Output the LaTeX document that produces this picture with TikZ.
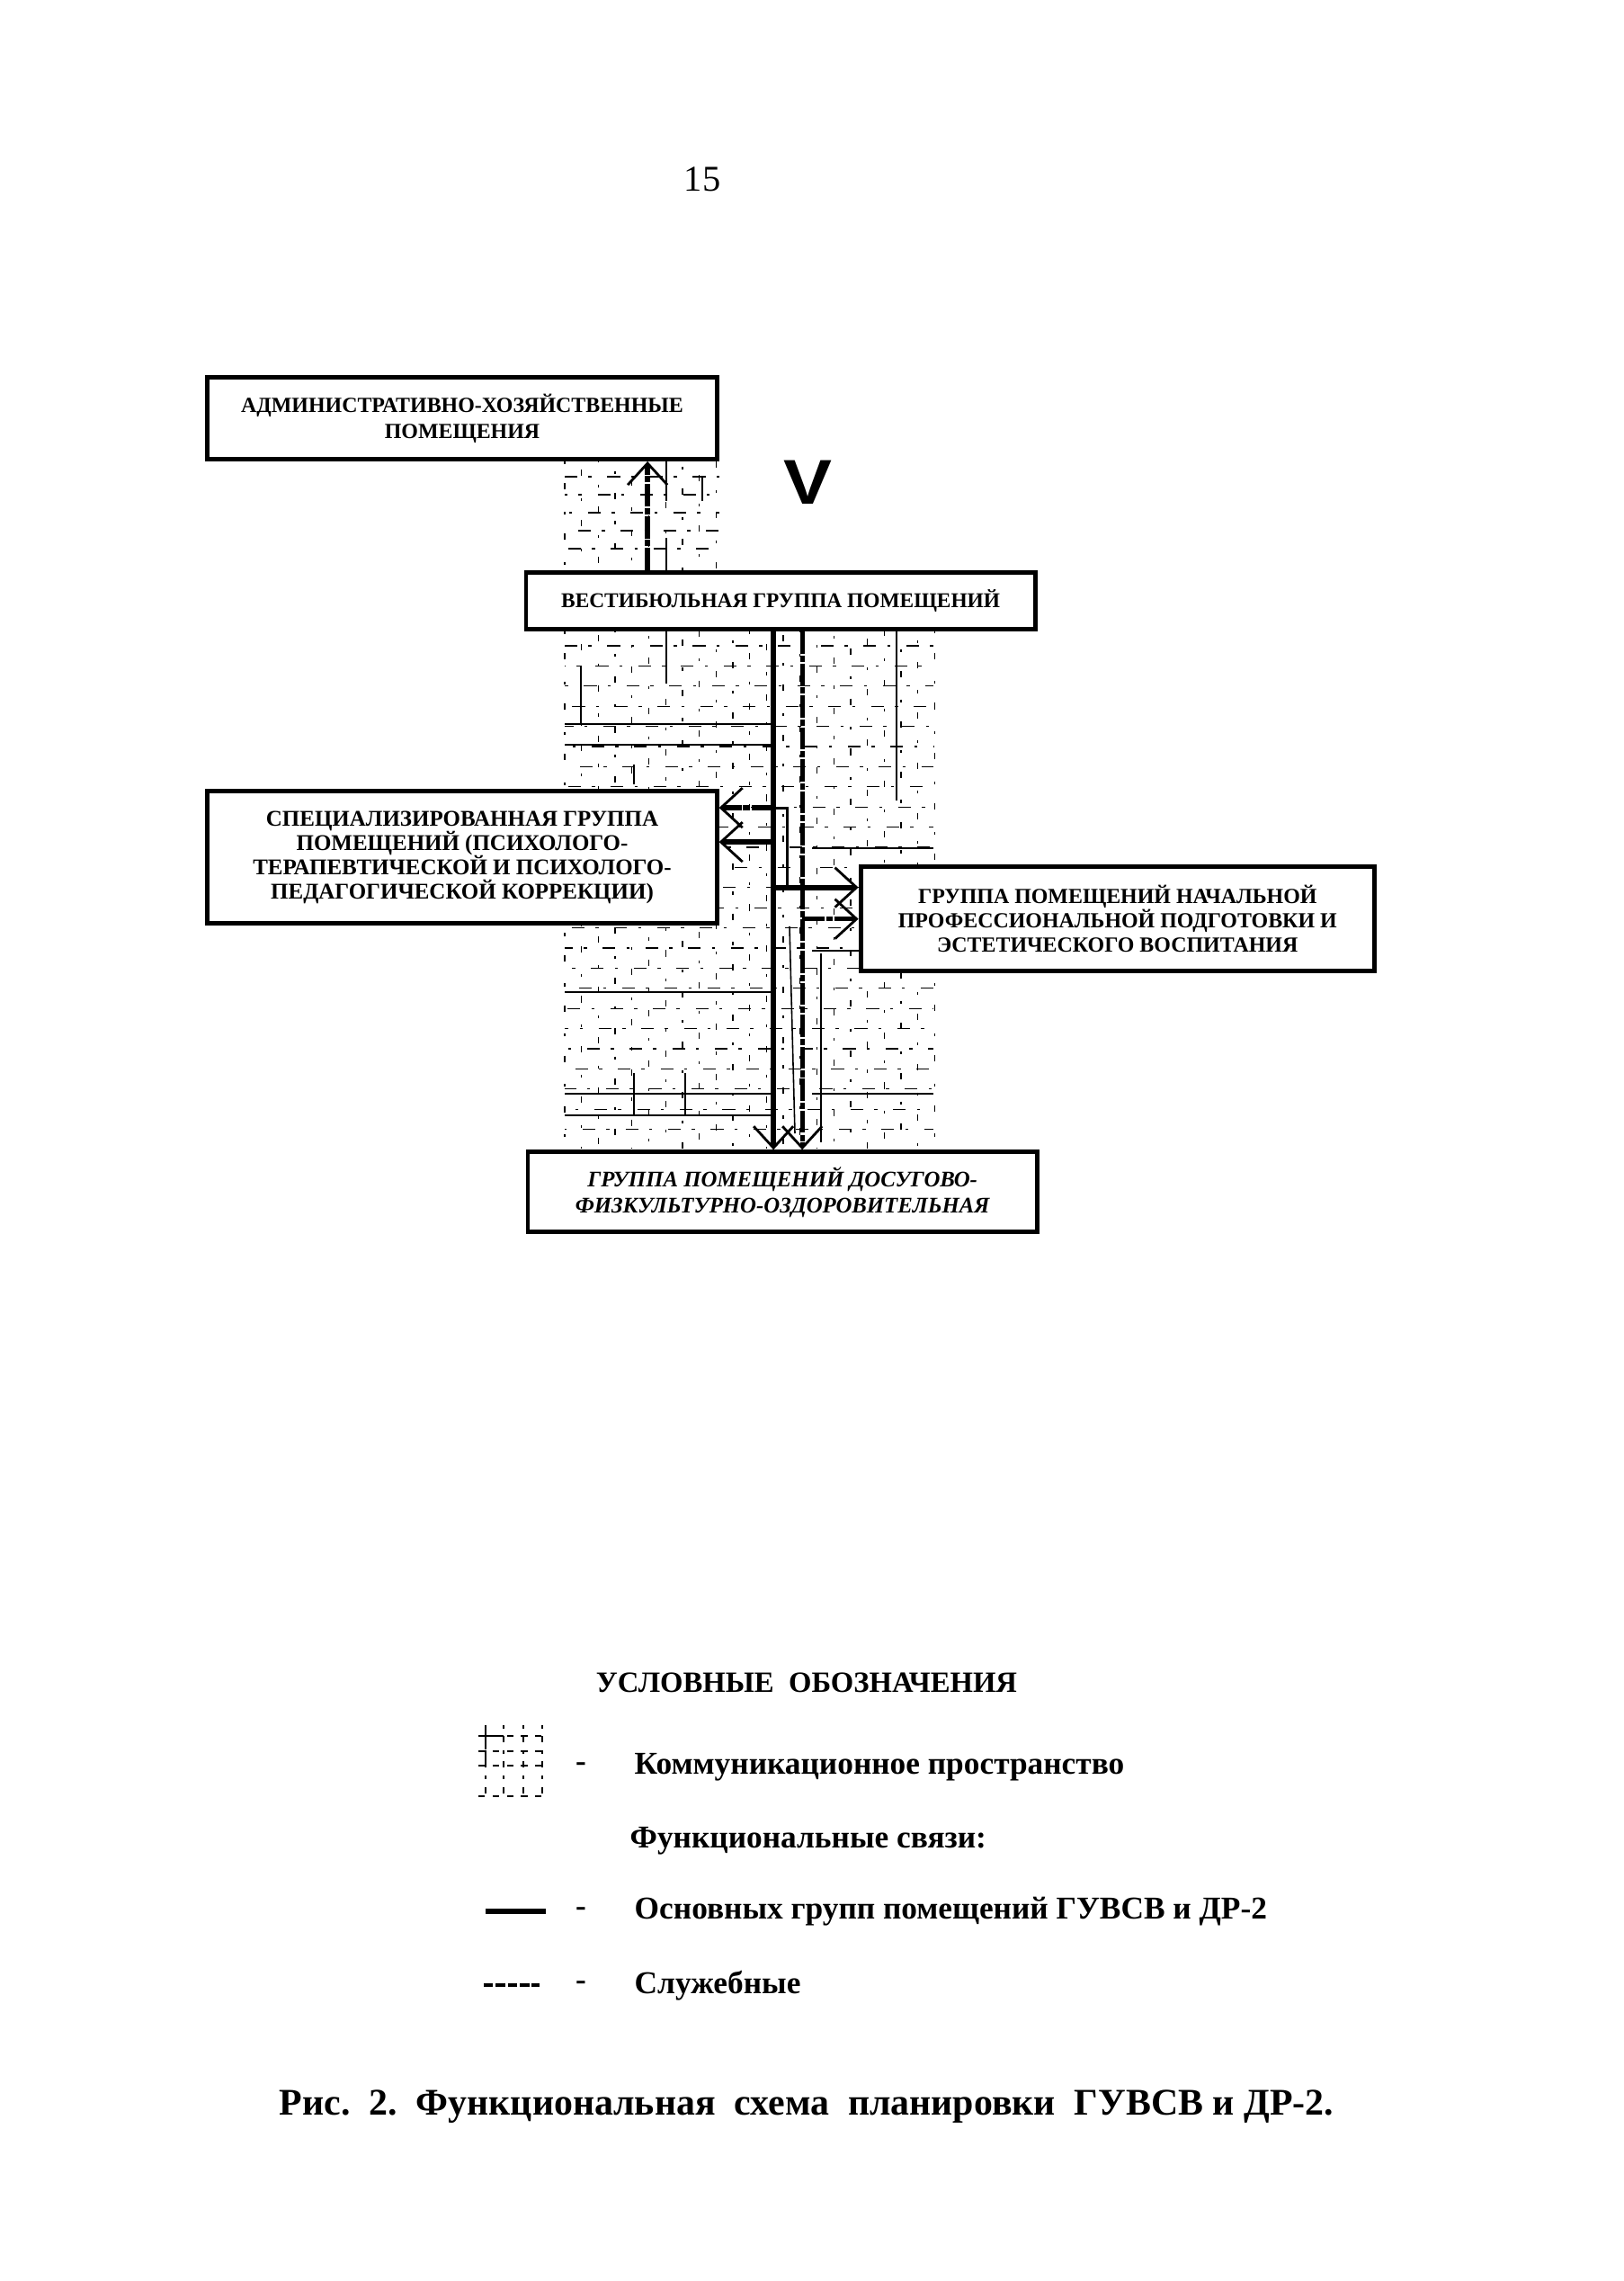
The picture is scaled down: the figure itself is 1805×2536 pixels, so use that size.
\documentclass[tikz,border=0pt]{standalone}
\usepackage{fontspec}
\setmainfont{Liberation Serif}
\newfontfamily\signfont{Liberation Sans}
\usetikzlibrary{arrows.meta, positioning, calc}
\tikzset{
  groupbox/.style={draw, rectangle, align=center, fill=white, line width=1.4pt, minimum width=5.66cm, font=\fontsize{6.8}{8.2}\selectfont\bfseries},
  barb/.style={-{Straight Barb[length=0.24cm, width=0.44cm, line width=0.8pt]}},
  mainlink/.style={line width=1.7pt},
  servlink/.style={line width=1.5pt, dash pattern=on 7pt off 0.6pt on 2pt off 0.5pt},
  thinlink/.style={line width=0.8pt},
  gridh/.style={line width=0.35pt, dash pattern=on 4pt off 3.5pt on 1pt off 5pt},
  gridv/.style={line width=0.35pt, dash pattern=on 0.9pt off 6pt on 2pt off 7pt},
  gridsolid/.style={line width=0.45pt},
  legendtext/.style={anchor=west, inner sep=0pt, font=\fontsize{10.05}{12}\selectfont\bfseries},
}
\begin{document}
\begin{tikzpicture}[x=0.01cm, y=-0.01cm]
  \useasboundingbox (0,0) rectangle (1805,2536);
  \fill [white] (0,0) rectangle (1805,2536);

  \foreach \gk in {0,...,24}
    \draw [gridh, dash phase=\gk*3.7pt] (628,718+22.4*\gk) -- (1038,718+22.4*\gk);
  \foreach \gk in {0,...,22}
    \draw [gridv, dash phase=\gk*2.9pt] (628+18.7*\gk,702) -- (628+18.7*\gk,1277);
  \foreach \gk in {0,...,4}
    \draw [gridh, dash phase=\gk*3.1pt] (628,530+20*\gk) -- (800,530+20*\gk);
  \foreach \gk in {0,...,9}
    \draw [gridv, dash phase=\gk*4.3pt] (628+18.7*\gk,513) -- (628+18.7*\gk,635);
  \foreach \xa/\ya/\xb/\yb in {741/513/741/557, 741/598/741/635, 781/530/781/557, 646/740/646/805,
    741/700/741/760, 997/702/997/890, 913/1060/913/1270, 705/850/705/872, 628/805/860/805,
    628/828/860/828, 628/1103/860/1103, 628/1216/860/1216, 628/1240/860/1240, 903/1216/1038/1216,
    903/943/1038/943, 903/1057/957/1057, 878/1030/884/1260, 705/1193/705/1240, 762/1193/762/1240}
    \draw [gridsolid] (\xa,\ya) -- (\xb,\yb);

  \node [groupbox, minimum height=0.91cm] (admin) at (514,465)
  {АДМИНИСТРАТИВНО-ХОЗЯЙСТВЕННЫЕ\\ ПОМЕЩЕНИЯ};
  \node [groupbox, minimum height=0.63cm, font=\fontsize{6.65}{8}\selectfont\bfseries, below right=1.21cm and -2.17cm of admin] (vest)
  {ВЕСТИБЮЛЬНАЯ ГРУППА ПОМЕЩЕНИЙ};
  \node [groupbox, minimum height=1.47cm, font=\fontsize{7.1}{7.7}\selectfont\bfseries, below left=1.75cm and -2.17cm of vest] (spec)
  {СПЕЦИАЛИЗИРОВАННАЯ ГРУППА\\ ПОМЕЩЕНИЙ (ПСИХОЛОГО-\\ ТЕРАПЕВТИЧЕСКОЙ И ПСИХОЛОГО-\\ ПЕДАГОГИЧЕСКОЙ КОРРЕКЦИИ)};
  \node [groupbox, minimum width=5.71cm, minimum height=1.16cm, font=\fontsize{6.8}{7.7}\selectfont\bfseries, below right=2.59cm and -1.99cm of vest] (nach)
  {ГРУППА ПОМЕЩЕНИЙ НАЧАЛЬНОЙ\\ ПРОФЕССИОНАЛЬНОЙ ПОДГОТОВКИ И\\ ЭСТЕТИЧЕСКОГО ВОСПИТАНИЯ};
  \node [groupbox, minimum height=0.89cm, font=\fontsize{7.05}{8.2}\selectfont\bfseries\itshape, below right=2.49cm and -2.15cm of spec] (dosug)
  {ГРУППА ПОМЕЩЕНИЙ ДОСУГОВО-\\ ФИЗКУЛЬТУРНО-ОЗДОРОВИТЕЛЬНАЯ};

  \node [font=\fontsize{11.5}{12}\selectfont] (pagenum) at (781,199) {15};
  \node [font=\fontsize{20}{24}\selectfont\signfont\bfseries, above=0.98cm of vest.north, anchor=center, xshift=0.30cm] (sign) {\scalebox{1.15}[1]{V}};

  \coordinate (uplink) at ([xshift=2.06cm]admin.south);
  \coordinate (maintop) at ([xshift=-0.08cm]vest.south);
  \coordinate (servtop) at ([xshift=0.24cm]vest.south);
  \coordinate (specmain) at ([yshift=0.17cm]spec.east);
  \coordinate (specserv) at ([yshift=0.55cm]spec.east);
  \coordinate (nachmain) at ([yshift=0.35cm]nach.west);
  \coordinate (bend) at ([xshift=0.15cm]maintop |- specserv);

  \draw [servlink, barb] (uplink |- vest.north) -- (uplink);
  \draw [mainlink, barb] (maintop) -- (maintop |- dosug.north);
  \draw [servlink, barb] (servtop) -- (servtop |- dosug.north);
  \draw [mainlink, barb] (maintop |- specmain) -- (specmain);
  \draw [servlink, barb] (maintop |- specserv) -- (specserv);
  \draw [thinlink] (maintop |- specserv) -- (bend) -- (bend |- nachmain);
  \draw [mainlink, barb] (maintop |- nachmain) -- (nachmain);
  \draw [servlink, barb] (servtop |- nach.west) -- (nach.west);

  \node [font=\fontsize{9.3}{12}\selectfont\bfseries] (legtitle) at (897,1871) {УСЛОВНЫЕ\ \ ОБОЗНАЧЕНИЯ};
  \node [legendtext] (legcomm) at (705,1965) {Коммуникационное пространство};
  \node [legendtext, below=0.82cm of legcomm.west, anchor=west, xshift=-0.05cm] (legfunc) {Функциональные связи:};
  \node [legendtext, below=1.60cm of legcomm.west, anchor=west] (legmain) {Основных групп помещений ГУВСВ и ДР-2};
  \node [legendtext, below=2.42cm of legcomm.west, anchor=west] (legserv) {Служебные};
  \node [legendtext, left=0.59cm of legcomm.west, anchor=center] (dashcomm) {-};
  \node [legendtext, left=0.59cm of legmain.west, anchor=center] (dashmain) {-};
  \node [legendtext, left=0.59cm of legserv.west, anchor=center] (dashserv) {-};

  \foreach \gy in {1930,1947,1963,1997}
    \draw [gridh, line width=0.35pt, dash pattern=on 2pt off 2.5pt] (532,\gy) -- (607,\gy);
  \foreach \gx in {540,560,582,603}
    \draw [gridv, dash pattern=on 1pt off 2.5pt on 2pt off 2.5pt] (\gx,1918) -- (\gx,1998);
  \draw [gridsolid] (540,1918) -- (540,1945) (532,1930) -- (560,1930) (540,1947) -- (540,1963);

  \draw [mainlink] ([xshift=-1.06cm]dashmain.center) -- ([xshift=-0.39cm]dashmain.center);
  \draw [servlink, line width=1.1pt, dash pattern=on 3pt off 0.8pt] ([xshift=-1.08cm]dashserv.center) -- ([xshift=-0.46cm]dashserv.center);

  \node [font=\fontsize{11.9}{14}\selectfont\bfseries] (caption) at (897,2342)
  {Рис.\ \ 2.\ \ Функциональная\ \ схема\ \ планировки\ \ ГУВСВ и ДР-2.};
\end{tikzpicture}
\end{document}
